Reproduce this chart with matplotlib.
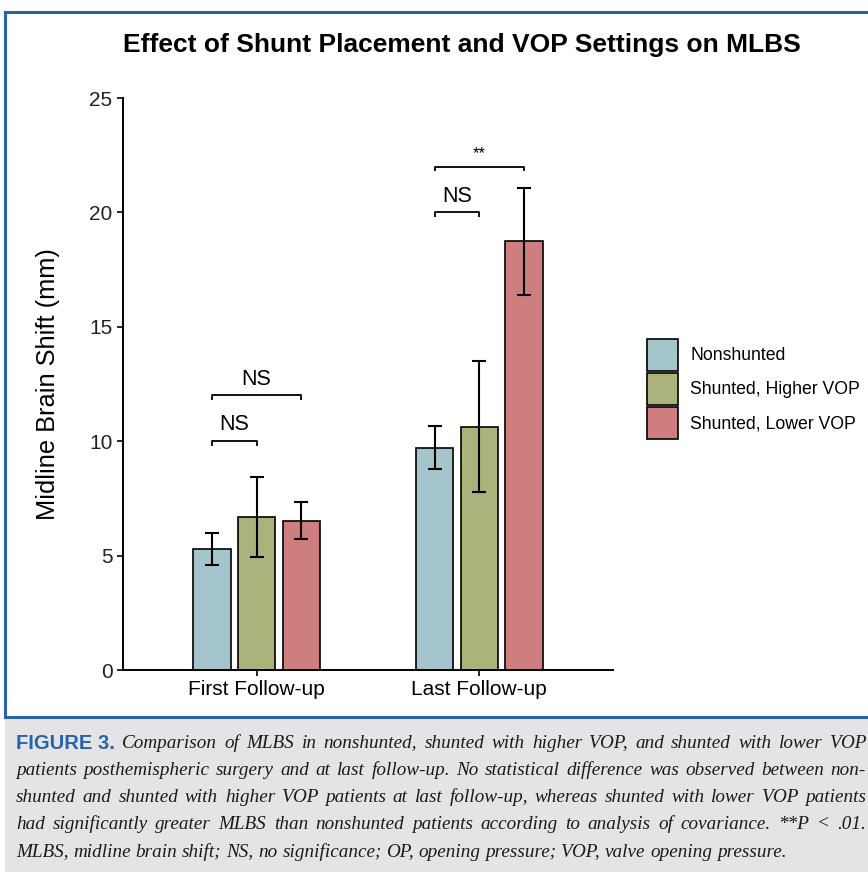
import matplotlib
matplotlib.use("Agg")
import matplotlib.pyplot as plt
from matplotlib.lines import Line2D
from matplotlib.patches import Rectangle
import numpy as np

# ---- data ----
groups = ["First Follow-up", "Last Follow-up"]
series = ["Nonshunted", "Shunted, Higher VOP", "Shunted, Lower VOP"]
colors = ["#a4c5cc", "#aab37b", "#ce7e7e"]

nonshunted_mean = [5.3, 9.72]
nonshunted_err = [0.7, 0.95]
higher_mean = [6.7, 10.63]
higher_err = [1.75, 2.87]
lower_mean = [6.53, 18.73]
lower_err = [0.8, 2.33]

# significance brackets: group index, series from/to, height, label
br_group = [0, 0, 1, 1]
br_from = [0, 0, 0, 0]
br_to = [1, 2, 1, 2]
br_y = [10, 12, 20, 22]
br_label = ["NS", "NS", "NS", "**"]

title = "Effect of Shunt Placement and VOP Settings on MLBS"
ylabel = "Midline Brain Shift (mm)"
yticks = [0, 5, 10, 15, 20, 25]

caption_lines = [
    "Comparison of MLBS in nonshunted, shunted with higher VOP, and shunted with lower VOP",
    "patients posthemispheric surgery and at last follow-up. No statistical difference was observed between non-",
    "shunted and shunted with higher VOP patients at last follow-up, whereas shunted with lower VOP patients",
    "had significantly greater MLBS than nonshunted patients according to analysis of covariance. **P < .01.",
    "MLBS, midline brain shift; NS, no significance; OP, opening pressure; VOP, valve opening pressure.",
]

SANS = ["Liberation Sans", "DejaVu Sans"]
W, H = 868, 872
fig = plt.figure(figsize=(W / 100, H / 100), dpi=100)
ax = fig.add_axes([123 / W, 1 - 670 / H, (613 - 123) / W, (670 - 98) / H])

means = [nonshunted_mean, higher_mean, lower_mean]
errs = [nonshunted_err, higher_err, lower_err]
x = np.arange(len(groups))
offset = 0.2
width = 0.167
for i, (m, e) in enumerate(zip(means, errs)):
    xi = x + (i - 1) * offset
    ax.bar(xi, m, width=width, color=colors[i], edgecolor="black",
           linewidth=1.2, label=series[i], zorder=2)
    ax.errorbar(xi, m, yerr=e, fmt="none", ecolor="black", elinewidth=1.5,
                capsize=5, capthick=1.5, zorder=3)

# brackets
for g, a, b, y, lab in zip(br_group, br_from, br_to, br_y, br_label):
    x1 = x[g] + (a - 1) * offset
    x2 = x[g] + (b - 1) * offset
    ax.plot([x1, x1, x2, x2], [y - 0.2, y, y, y - 0.2], color="black",
            lw=1.3, solid_capstyle="butt", zorder=3)
    fs = 12 if lab == "**" else 15.5
    ax.text((x1 + x2) / 2, y + 0.25, lab, ha="center", va="bottom",
            fontsize=fs, family=SANS)

ax.set_xlim(-0.6, 1.6)
ax.set_ylim(0, 25)
ax.set_xticks(x)
ax.set_xticklabels(groups, fontsize=15, family=SANS)
ax.set_yticks(yticks)
ax.set_yticklabels([str(t) for t in yticks], fontsize=15, family=SANS,
                   color="#222222")
ax.tick_params(axis="both", direction="out", length=4.5, width=1.2, pad=3)
for s in ["top", "right"]:
    ax.spines[s].set_visible(False)
for s in ["left", "bottom"]:
    ax.spines[s].set_linewidth(1.4)
ax.set_ylabel(ylabel, fontsize=18.3, family=SANS, labelpad=21)

ax.legend(loc="center left", bbox_to_anchor=(647 / W, 1 - 389 / H),
          bbox_transform=fig.transFigure, frameon=False,
          prop={"family": SANS, "size": 12.7},
          handlelength=1.76, handleheight=2.42, labelspacing=0.12,
          handletextpad=0.7, borderaxespad=0, borderpad=0)

fig.text(462 / W, 1 - 45 / H, title, ha="center", va="center",
         fontsize=19, fontweight="bold", family=SANS)

# frame and caption box
blue = "#2a62a8"
fig.add_artist(Rectangle((5 / W, 0), 1, (H - 717) / H, transform=fig.transFigure,
                         facecolor="#e4e4e6", edgecolor="none", zorder=0))
fig.add_artist(Line2D([5 / W, 1], [1 - 12 / H] * 2, color=blue, lw=2.2,
                      transform=fig.transFigure))
fig.add_artist(Line2D([5 / W, 1], [1 - 717 / H] * 2, color=blue, lw=2.2,
                      transform=fig.transFigure))
fig.add_artist(Line2D([5 / W] * 2, [1 - 12 / H, 1 - 717 / H], color=blue, lw=2.2,
                      transform=fig.transFigure))

# justified caption
renderer = fig.canvas.get_renderer()
cap_font = dict(family=["Liberation Serif", "DejaVu Serif"], style="italic",
                fontsize=13.8, color="#1a1a1a")
left_px, right_px = 16, 866
line_y = [743, 770, 797, 824, 852]


def word_width(t):
    return t.get_window_extent(renderer).width


for li, line in enumerate(caption_lines):
    yf = 1 - line_y[li] / H
    words = line.split(" ")
    arts = []
    if li == 0:
        head = fig.text(left_px / W, yf, "FIGURE 3.", ha="left", va="center",
                        fontsize=14.5, fontweight="bold", color=blue,
                        family=["Liberation Sans Narrow", "Liberation Sans"])
        arts.append(head)
    for wd in words:
        arts.append(fig.text(0, yf, wd, ha="left", va="center", **cap_font))
    widths = [word_width(a) for a in arts]
    total = sum(widths)
    if li < len(caption_lines) - 1:
        gap = (right_px - left_px - total) / (len(arts) - 1)
    else:
        sp = fig.text(0, yf, "a a", **cap_font)
        sp2 = fig.text(0, yf, "aa", **cap_font)
        gap = word_width(sp) - word_width(sp2)
        sp.remove()
        sp2.remove()
    xpos = left_px
    for a, w in zip(arts, widths):
        a.set_x(xpos / W)
        xpos += w + gap

fig.savefig("out.png", dpi=100)
